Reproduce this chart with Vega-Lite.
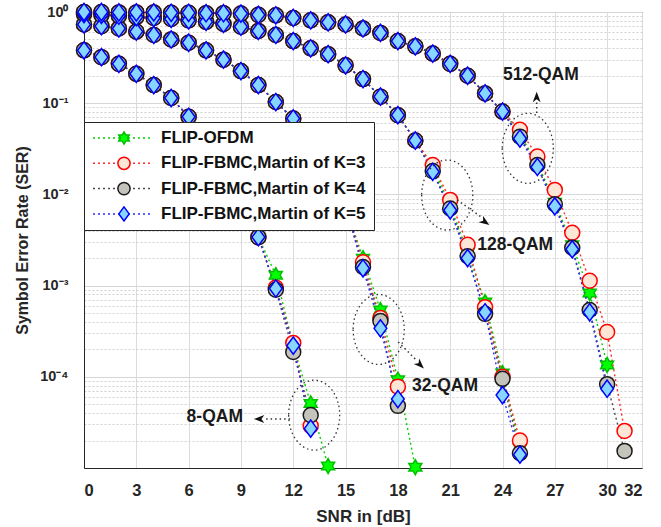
{
"$schema": "https://vega.github.io/schema/vega-lite/v6.json",
"width": 558, "height": 456,
"autosize": {"type": "none"},
"padding": {"left": 84, "top": 12, "right": 19, "bottom": 59},
"background": "white",
"config": {"view": {"stroke": "#262626", "strokeWidth": 1}, "font": "Liberation Sans"},
"data": {"values": [
{"s":"a","m":8,"x":0,"y":0.38},{"s":"a","m":8,"x":1,"y":0.32},{"s":"a","m":8,"x":2,"y":0.27},{"s":"a","m":8,"x":3,"y":0.21},{"s":"a","m":8,"x":4,"y":0.158},{"s":"a","m":8,"x":5,"y":0.114},{"s":"a","m":8,"x":6,"y":0.071},{"s":"a","m":8,"x":7,"y":0.042},{"s":"a","m":8,"x":8,"y":0.021},{"s":"a","m":8,"x":9,"y":0.0095},{"s":"a","m":8,"x":10,"y":0.0034},{"s":"a","m":8,"x":11,"y":0.0013},{"s":"a","m":8,"x":12,"y":0.00022},{"s":"a","m":8,"x":13,"y":0.000051},{"s":"a","m":8,"x":14,"y":0.0000105},
{"s":"a","m":32,"x":0,"y":0.73},{"s":"a","m":32,"x":1,"y":0.70},{"s":"a","m":32,"x":2,"y":0.66},{"s":"a","m":32,"x":3,"y":0.61},{"s":"a","m":32,"x":4,"y":0.56},{"s":"a","m":32,"x":5,"y":0.50},{"s":"a","m":32,"x":6,"y":0.46},{"s":"a","m":32,"x":7,"y":0.38},{"s":"a","m":32,"x":8,"y":0.30},{"s":"a","m":32,"x":9,"y":0.225},{"s":"a","m":32,"x":10,"y":0.158},{"s":"a","m":32,"x":11,"y":0.103},{"s":"a","m":32,"x":12,"y":0.068},{"s":"a","m":32,"x":13,"y":0.04},{"s":"a","m":32,"x":14,"y":0.02},{"s":"a","m":32,"x":15,"y":0.0075},{"s":"a","m":32,"x":16,"y":0.002},{"s":"a","m":32,"x":17,"y":0.00054},{"s":"a","m":32,"x":18,"y":0.000093},{"s":"a","m":32,"x":19,"y":0.0000102},
{"s":"a","m":128,"x":0,"y":0.95},{"s":"a","m":128,"x":1,"y":0.93},{"s":"a","m":128,"x":2,"y":0.91},{"s":"a","m":128,"x":3,"y":0.88},{"s":"a","m":128,"x":4,"y":0.86},{"s":"a","m":128,"x":5,"y":0.84},{"s":"a","m":128,"x":6,"y":0.81},{"s":"a","m":128,"x":7,"y":0.78},{"s":"a","m":128,"x":8,"y":0.74},{"s":"a","m":128,"x":9,"y":0.69},{"s":"a","m":128,"x":10,"y":0.62},{"s":"a","m":128,"x":11,"y":0.56},{"s":"a","m":128,"x":12,"y":0.48},{"s":"a","m":128,"x":13,"y":0.40},{"s":"a","m":128,"x":14,"y":0.345},{"s":"a","m":128,"x":15,"y":0.26},{"s":"a","m":128,"x":16,"y":0.184},{"s":"a","m":128,"x":17,"y":0.118},{"s":"a","m":128,"x":18,"y":0.074},{"s":"a","m":128,"x":19,"y":0.039},{"s":"a","m":128,"x":20,"y":0.02},{"s":"a","m":128,"x":21,"y":0.0076},{"s":"a","m":128,"x":22,"y":0.0023},{"s":"a","m":128,"x":23,"y":0.00066},{"s":"a","m":128,"x":24,"y":0.00011},{"s":"a","m":128,"x":25,"y":0.0000165},
{"s":"a","m":512,"x":0,"y":1.0},{"s":"a","m":512,"x":1,"y":1.0},{"s":"a","m":512,"x":2,"y":0.99},{"s":"a","m":512,"x":3,"y":0.99},{"s":"a","m":512,"x":4,"y":0.99},{"s":"a","m":512,"x":5,"y":0.98},{"s":"a","m":512,"x":6,"y":0.98},{"s":"a","m":512,"x":7,"y":0.97},{"s":"a","m":512,"x":8,"y":0.97},{"s":"a","m":512,"x":9,"y":0.96},{"s":"a","m":512,"x":10,"y":0.93},{"s":"a","m":512,"x":11,"y":0.92},{"s":"a","m":512,"x":12,"y":0.86},{"s":"a","m":512,"x":13,"y":0.81},{"s":"a","m":512,"x":14,"y":0.77},{"s":"a","m":512,"x":15,"y":0.73},{"s":"a","m":512,"x":16,"y":0.66},{"s":"a","m":512,"x":17,"y":0.59},{"s":"a","m":512,"x":18,"y":0.48},{"s":"a","m":512,"x":19,"y":0.42},{"s":"a","m":512,"x":20,"y":0.35},{"s":"a","m":512,"x":21,"y":0.27},{"s":"a","m":512,"x":22,"y":0.20},{"s":"a","m":512,"x":23,"y":0.128},{"s":"a","m":512,"x":24,"y":0.081},{"s":"a","m":512,"x":25,"y":0.045},{"s":"a","m":512,"x":26,"y":0.022},{"s":"a","m":512,"x":27,"y":0.0082},{"s":"a","m":512,"x":28,"y":0.0028},{"s":"a","m":512,"x":29,"y":0.00083},{"s":"a","m":512,"x":30,"y":0.000135},
{"s":"b","m":8,"x":0,"y":0.38},{"s":"b","m":8,"x":1,"y":0.32},{"s":"b","m":8,"x":2,"y":0.27},{"s":"b","m":8,"x":3,"y":0.21},{"s":"b","m":8,"x":4,"y":0.158},{"s":"b","m":8,"x":5,"y":0.114},{"s":"b","m":8,"x":6,"y":0.071},{"s":"b","m":8,"x":7,"y":0.042},{"s":"b","m":8,"x":8,"y":0.021},{"s":"b","m":8,"x":9,"y":0.0095},{"s":"b","m":8,"x":10,"y":0.0034},{"s":"b","m":8,"x":11,"y":0.00095},{"s":"b","m":8,"x":12,"y":0.000235},{"s":"b","m":8,"x":13,"y":0.000029},
{"s":"b","m":32,"x":0,"y":0.73},{"s":"b","m":32,"x":1,"y":0.70},{"s":"b","m":32,"x":2,"y":0.66},{"s":"b","m":32,"x":3,"y":0.61},{"s":"b","m":32,"x":4,"y":0.56},{"s":"b","m":32,"x":5,"y":0.50},{"s":"b","m":32,"x":6,"y":0.46},{"s":"b","m":32,"x":7,"y":0.38},{"s":"b","m":32,"x":8,"y":0.30},{"s":"b","m":32,"x":9,"y":0.225},{"s":"b","m":32,"x":10,"y":0.158},{"s":"b","m":32,"x":11,"y":0.103},{"s":"b","m":32,"x":12,"y":0.068},{"s":"b","m":32,"x":13,"y":0.04},{"s":"b","m":32,"x":14,"y":0.02},{"s":"b","m":32,"x":15,"y":0.0075},{"s":"b","m":32,"x":16,"y":0.0018},{"s":"b","m":32,"x":17,"y":0.00044},{"s":"b","m":32,"x":18,"y":0.000078},
{"s":"b","m":128,"x":0,"y":0.95},{"s":"b","m":128,"x":1,"y":0.93},{"s":"b","m":128,"x":2,"y":0.91},{"s":"b","m":128,"x":3,"y":0.88},{"s":"b","m":128,"x":4,"y":0.86},{"s":"b","m":128,"x":5,"y":0.84},{"s":"b","m":128,"x":6,"y":0.81},{"s":"b","m":128,"x":7,"y":0.78},{"s":"b","m":128,"x":8,"y":0.74},{"s":"b","m":128,"x":9,"y":0.69},{"s":"b","m":128,"x":10,"y":0.62},{"s":"b","m":128,"x":11,"y":0.56},{"s":"b","m":128,"x":12,"y":0.48},{"s":"b","m":128,"x":13,"y":0.40},{"s":"b","m":128,"x":14,"y":0.345},{"s":"b","m":128,"x":15,"y":0.26},{"s":"b","m":128,"x":16,"y":0.184},{"s":"b","m":128,"x":17,"y":0.118},{"s":"b","m":128,"x":18,"y":0.074},{"s":"b","m":128,"x":19,"y":0.039},{"s":"b","m":128,"x":20,"y":0.021},{"s":"b","m":128,"x":21,"y":0.0087},{"s":"b","m":128,"x":22,"y":0.0028},{"s":"b","m":128,"x":23,"y":0.00058},{"s":"b","m":128,"x":24,"y":0.0001},{"s":"b","m":128,"x":25,"y":0.00002},
{"s":"b","m":512,"x":0,"y":1.0},{"s":"b","m":512,"x":1,"y":1.0},{"s":"b","m":512,"x":2,"y":0.99},{"s":"b","m":512,"x":3,"y":0.99},{"s":"b","m":512,"x":4,"y":0.99},{"s":"b","m":512,"x":5,"y":0.98},{"s":"b","m":512,"x":6,"y":0.98},{"s":"b","m":512,"x":7,"y":0.97},{"s":"b","m":512,"x":8,"y":0.97},{"s":"b","m":512,"x":9,"y":0.96},{"s":"b","m":512,"x":10,"y":0.93},{"s":"b","m":512,"x":11,"y":0.92},{"s":"b","m":512,"x":12,"y":0.86},{"s":"b","m":512,"x":13,"y":0.81},{"s":"b","m":512,"x":14,"y":0.77},{"s":"b","m":512,"x":15,"y":0.73},{"s":"b","m":512,"x":16,"y":0.66},{"s":"b","m":512,"x":17,"y":0.59},{"s":"b","m":512,"x":18,"y":0.48},{"s":"b","m":512,"x":19,"y":0.42},{"s":"b","m":512,"x":20,"y":0.35},{"s":"b","m":512,"x":21,"y":0.27},{"s":"b","m":512,"x":22,"y":0.20},{"s":"b","m":512,"x":23,"y":0.128},{"s":"b","m":512,"x":24,"y":0.081},{"s":"b","m":512,"x":25,"y":0.051},{"s":"b","m":512,"x":26,"y":0.026},{"s":"b","m":512,"x":27,"y":0.0112},{"s":"b","m":512,"x":28,"y":0.0038},{"s":"b","m":512,"x":29,"y":0.00113},{"s":"b","m":512,"x":30,"y":0.00031},{"s":"b","m":512,"x":31,"y":0.0000255},
{"s":"c","m":8,"x":0,"y":0.38},{"s":"c","m":8,"x":1,"y":0.32},{"s":"c","m":8,"x":2,"y":0.27},{"s":"c","m":8,"x":3,"y":0.21},{"s":"c","m":8,"x":4,"y":0.158},{"s":"c","m":8,"x":5,"y":0.114},{"s":"c","m":8,"x":6,"y":0.071},{"s":"c","m":8,"x":7,"y":0.042},{"s":"c","m":8,"x":8,"y":0.021},{"s":"c","m":8,"x":9,"y":0.0095},{"s":"c","m":8,"x":10,"y":0.0034},{"s":"c","m":8,"x":11,"y":0.0009},{"s":"c","m":8,"x":12,"y":0.000187},{"s":"c","m":8,"x":13,"y":0.000038},
{"s":"c","m":32,"x":0,"y":0.73},{"s":"c","m":32,"x":1,"y":0.70},{"s":"c","m":32,"x":2,"y":0.66},{"s":"c","m":32,"x":3,"y":0.61},{"s":"c","m":32,"x":4,"y":0.56},{"s":"c","m":32,"x":5,"y":0.50},{"s":"c","m":32,"x":6,"y":0.46},{"s":"c","m":32,"x":7,"y":0.38},{"s":"c","m":32,"x":8,"y":0.30},{"s":"c","m":32,"x":9,"y":0.225},{"s":"c","m":32,"x":10,"y":0.158},{"s":"c","m":32,"x":11,"y":0.103},{"s":"c","m":32,"x":12,"y":0.068},{"s":"c","m":32,"x":13,"y":0.04},{"s":"c","m":32,"x":14,"y":0.02},{"s":"c","m":32,"x":15,"y":0.0075},{"s":"c","m":32,"x":16,"y":0.0016},{"s":"c","m":32,"x":17,"y":0.00041},{"s":"c","m":32,"x":18,"y":0.000048},
{"s":"c","m":128,"x":0,"y":0.95},{"s":"c","m":128,"x":1,"y":0.93},{"s":"c","m":128,"x":2,"y":0.91},{"s":"c","m":128,"x":3,"y":0.88},{"s":"c","m":128,"x":4,"y":0.86},{"s":"c","m":128,"x":5,"y":0.84},{"s":"c","m":128,"x":6,"y":0.81},{"s":"c","m":128,"x":7,"y":0.78},{"s":"c","m":128,"x":8,"y":0.74},{"s":"c","m":128,"x":9,"y":0.69},{"s":"c","m":128,"x":10,"y":0.62},{"s":"c","m":128,"x":11,"y":0.56},{"s":"c","m":128,"x":12,"y":0.48},{"s":"c","m":128,"x":13,"y":0.40},{"s":"c","m":128,"x":14,"y":0.345},{"s":"c","m":128,"x":15,"y":0.26},{"s":"c","m":128,"x":16,"y":0.184},{"s":"c","m":128,"x":17,"y":0.118},{"s":"c","m":128,"x":18,"y":0.074},{"s":"c","m":128,"x":19,"y":0.039},{"s":"c","m":128,"x":20,"y":0.018},{"s":"c","m":128,"x":21,"y":0.007},{"s":"c","m":128,"x":22,"y":0.0021},{"s":"c","m":128,"x":23,"y":0.00049},{"s":"c","m":128,"x":24,"y":0.000095},{"s":"c","m":128,"x":25,"y":0.0000145},
{"s":"c","m":512,"x":0,"y":1.0},{"s":"c","m":512,"x":1,"y":1.0},{"s":"c","m":512,"x":2,"y":0.99},{"s":"c","m":512,"x":3,"y":0.99},{"s":"c","m":512,"x":4,"y":0.99},{"s":"c","m":512,"x":5,"y":0.98},{"s":"c","m":512,"x":6,"y":0.98},{"s":"c","m":512,"x":7,"y":0.97},{"s":"c","m":512,"x":8,"y":0.97},{"s":"c","m":512,"x":9,"y":0.96},{"s":"c","m":512,"x":10,"y":0.93},{"s":"c","m":512,"x":11,"y":0.92},{"s":"c","m":512,"x":12,"y":0.86},{"s":"c","m":512,"x":13,"y":0.81},{"s":"c","m":512,"x":14,"y":0.77},{"s":"c","m":512,"x":15,"y":0.73},{"s":"c","m":512,"x":16,"y":0.66},{"s":"c","m":512,"x":17,"y":0.59},{"s":"c","m":512,"x":18,"y":0.48},{"s":"c","m":512,"x":19,"y":0.42},{"s":"c","m":512,"x":20,"y":0.35},{"s":"c","m":512,"x":21,"y":0.27},{"s":"c","m":512,"x":22,"y":0.20},{"s":"c","m":512,"x":23,"y":0.128},{"s":"c","m":512,"x":24,"y":0.081},{"s":"c","m":512,"x":25,"y":0.043},{"s":"c","m":512,"x":26,"y":0.021},{"s":"c","m":512,"x":27,"y":0.0078},{"s":"c","m":512,"x":28,"y":0.0026},{"s":"c","m":512,"x":29,"y":0.00054},{"s":"c","m":512,"x":30,"y":0.000083},{"s":"c","m":512,"x":31,"y":0.0000154},
{"s":"d","m":8,"x":0,"y":0.38},{"s":"d","m":8,"x":1,"y":0.32},{"s":"d","m":8,"x":2,"y":0.27},{"s":"d","m":8,"x":3,"y":0.21},{"s":"d","m":8,"x":4,"y":0.158},{"s":"d","m":8,"x":5,"y":0.114},{"s":"d","m":8,"x":6,"y":0.071},{"s":"d","m":8,"x":7,"y":0.042},{"s":"d","m":8,"x":8,"y":0.021},{"s":"d","m":8,"x":9,"y":0.0095},{"s":"d","m":8,"x":10,"y":0.0034},{"s":"d","m":8,"x":11,"y":0.00093},{"s":"d","m":8,"x":12,"y":0.00022},{"s":"d","m":8,"x":13,"y":0.000027},
{"s":"d","m":32,"x":0,"y":0.73},{"s":"d","m":32,"x":1,"y":0.70},{"s":"d","m":32,"x":2,"y":0.66},{"s":"d","m":32,"x":3,"y":0.61},{"s":"d","m":32,"x":4,"y":0.56},{"s":"d","m":32,"x":5,"y":0.50},{"s":"d","m":32,"x":6,"y":0.46},{"s":"d","m":32,"x":7,"y":0.38},{"s":"d","m":32,"x":8,"y":0.30},{"s":"d","m":32,"x":9,"y":0.225},{"s":"d","m":32,"x":10,"y":0.158},{"s":"d","m":32,"x":11,"y":0.103},{"s":"d","m":32,"x":12,"y":0.068},{"s":"d","m":32,"x":13,"y":0.04},{"s":"d","m":32,"x":14,"y":0.02},{"s":"d","m":32,"x":15,"y":0.0075},{"s":"d","m":32,"x":16,"y":0.00155},{"s":"d","m":32,"x":17,"y":0.00034},{"s":"d","m":32,"x":18,"y":0.000057},
{"s":"d","m":128,"x":0,"y":0.95},{"s":"d","m":128,"x":1,"y":0.93},{"s":"d","m":128,"x":2,"y":0.91},{"s":"d","m":128,"x":3,"y":0.88},{"s":"d","m":128,"x":4,"y":0.86},{"s":"d","m":128,"x":5,"y":0.84},{"s":"d","m":128,"x":6,"y":0.81},{"s":"d","m":128,"x":7,"y":0.78},{"s":"d","m":128,"x":8,"y":0.74},{"s":"d","m":128,"x":9,"y":0.69},{"s":"d","m":128,"x":10,"y":0.62},{"s":"d","m":128,"x":11,"y":0.56},{"s":"d","m":128,"x":12,"y":0.48},{"s":"d","m":128,"x":13,"y":0.40},{"s":"d","m":128,"x":14,"y":0.345},{"s":"d","m":128,"x":15,"y":0.26},{"s":"d","m":128,"x":16,"y":0.184},{"s":"d","m":128,"x":17,"y":0.118},{"s":"d","m":128,"x":18,"y":0.074},{"s":"d","m":128,"x":19,"y":0.039},{"s":"d","m":128,"x":20,"y":0.0177},{"s":"d","m":128,"x":21,"y":0.0067},{"s":"d","m":128,"x":22,"y":0.002},{"s":"d","m":128,"x":23,"y":0.00051},{"s":"d","m":128,"x":24,"y":0.000063},{"s":"d","m":128,"x":25,"y":0.000014},
{"s":"d","m":512,"x":0,"y":1.0},{"s":"d","m":512,"x":1,"y":1.0},{"s":"d","m":512,"x":2,"y":0.99},{"s":"d","m":512,"x":3,"y":0.99},{"s":"d","m":512,"x":4,"y":0.99},{"s":"d","m":512,"x":5,"y":0.98},{"s":"d","m":512,"x":6,"y":0.98},{"s":"d","m":512,"x":7,"y":0.97},{"s":"d","m":512,"x":8,"y":0.97},{"s":"d","m":512,"x":9,"y":0.96},{"s":"d","m":512,"x":10,"y":0.93},{"s":"d","m":512,"x":11,"y":0.92},{"s":"d","m":512,"x":12,"y":0.86},{"s":"d","m":512,"x":13,"y":0.81},{"s":"d","m":512,"x":14,"y":0.77},{"s":"d","m":512,"x":15,"y":0.73},{"s":"d","m":512,"x":16,"y":0.66},{"s":"d","m":512,"x":17,"y":0.59},{"s":"d","m":512,"x":18,"y":0.48},{"s":"d","m":512,"x":19,"y":0.42},{"s":"d","m":512,"x":20,"y":0.35},{"s":"d","m":512,"x":21,"y":0.27},{"s":"d","m":512,"x":22,"y":0.20},{"s":"d","m":512,"x":23,"y":0.128},{"s":"d","m":512,"x":24,"y":0.081},{"s":"d","m":512,"x":25,"y":0.041},{"s":"d","m":512,"x":26,"y":0.02},{"s":"d","m":512,"x":27,"y":0.0074},{"s":"d","m":512,"x":28,"y":0.0025},{"s":"d","m":512,"x":29,"y":0.00051},{"s":"d","m":512,"x":30,"y":0.000074}
]},
"layer": [
{
"transform": [{"filter": "datum.y > 0"}],
"mark": {"type": "line", "strokeDash": [2, 3], "strokeWidth": 1.4, "clip": true},
"encoding": {
"x": {"field": "x", "type": "quantitative", "scale": {"domain": [0, 32], "nice": false, "zero": false},
"axis": {"title": "SNR in [dB]", "values": [0,3,6,9,12,15,18,21,24,27,30,32], "grid": true, "gridColor": "#dcdcdc", "ticks": false, "domainColor": "#262626", "labelFont": "Liberation Sans", "labelFontSize": 16.5, "labelFontWeight": "bold", "labelColor": "#262626", "labelPadding": 14, "labelOverlap": false, "titleFont": "Liberation Sans", "titleFontSize": 17, "titleFontWeight": "bold", "titleColor": "#262626", "titleY": 48, "titleBaseline": "middle"}},
"y": {"field": "y", "type": "quantitative", "scale": {"type": "log", "domain": [0.00001, 1], "nice": false},
"axis": {"title": "Symbol Error Rate (SER)",
"values": [0.00001,0.00002,0.00003,0.00004,0.00005,0.00006,0.00007,0.00008,0.00009,0.0001,0.0002,0.0003,0.0004,0.0005,0.0006,0.0007,0.0008,0.0009,0.001,0.002,0.003,0.004,0.005,0.006,0.007,0.008,0.009,0.01,0.02,0.03,0.04,0.05,0.06,0.07,0.08,0.09,0.1,0.2,0.3,0.4,0.5,0.6,0.7,0.8,0.9,1],
"labelExpr": "abs(log(datum.value)/LN10 - round(log(datum.value)/LN10)) < 0.01 ? (round(log(datum.value)/LN10) == 0 ? '10⁰' : round(log(datum.value)/LN10) == -1 ? '10⁻¹' : round(log(datum.value)/LN10) == -2 ? '10⁻²' : round(log(datum.value)/LN10) == -3 ? '10⁻³' : round(log(datum.value)/LN10) == -4 ? '10⁻⁴' : '') : ''",
"grid": true,
"gridColor": {"condition": {"test": "abs(log(datum.value)/LN10 - round(log(datum.value)/LN10)) < 0.01", "value": "#d6d6d6"}, "value": "#d0d0d0"},
"gridDash": {"condition": {"test": "abs(log(datum.value)/LN10 - round(log(datum.value)/LN10)) < 0.01", "value": []}, "value": [2, 2]},
"ticks": false, "domainColor": "#262626", "labelFont": "Liberation Sans", "labelFontSize": 14.5, "labelFontWeight": "bold", "labelColor": "#262626", "labelPadding": 16, "labelOverlap": false,
"titleFont": "Liberation Sans", "titleFontSize": 16, "titleFontWeight": "bold", "titleColor": "#262626", "titleX": -62, "titleY": 228, "titleAngle": -90, "titleBaseline": "middle", "titleAlign": "center"}},
"detail": {"field": "m", "type": "nominal"},
"color": {"field": "s", "type": "nominal",
"scale": {"range": ["#00d000", "#ff2a2a", "#4a4a4a", "#2a2aff"]},
"legend": {"title": null, "orient": "none", "legendX": 0, "legendY": 110, "padding": 8, "fillColor": "white", "strokeColor": "#262626", "symbolType": "stroke", "symbolSize": 3600, "symbolDash": [2, 3], "symbolStrokeWidth": 1.5, "clipHeight": 16, "labelFont": "Liberation Sans", "labelFontSize": 17, "labelFontWeight": "bold", "labelColor": "#111111", "labelOffset": 7, "rowPadding": 8.3, "labelLimit": 400,
"labelExpr": "datum.label == 'a' ? 'FLIP-OFDM' : datum.label == 'b' ? 'FLIP-FBMC,Martin of K=3' : datum.label == 'c' ? 'FLIP-FBMC,Martin of K=4' : 'FLIP-FBMC,Martin of K=5'"}}
}
},
{
"mark": {"type": "point", "filled": true, "strokeWidth": 1.5, "size": 225, "opacity": 1},
"encoding": {
"x": {"field": "x", "type": "quantitative"},
"y": {"field": "y", "type": "quantitative"},
"shape": {"field": "s", "type": "nominal",
"scale": {"range": ["M0,-1L0.2887,-0.5L0.866,-0.5L0.577,0L0.866,0.5L0.2887,0.5L0,1L-0.2887,0.5L-0.866,0.5L-0.577,0L-0.866,-0.5L-0.2887,-0.5Z", "circle", "circle", "M0,-1.15L0.85,0L0,1.15L-0.85,0Z"]},
"legend": {"title": null, "orient": "none", "legendX": 23.5, "legendY": 110, "padding": 8, "symbolSize": 150, "symbolStrokeWidth": 1.5, "clipHeight": 16, "labelFontSize": 17, "labelOffset": 7, "rowPadding": 8.3, "labelExpr": "''"}},
"fill": {"field": "s", "type": "nominal", "scale": {"range": ["#00ff00", "#fde6d6", "#c4c4bc", "#86d6ff"]},
"legend": {"title": null, "orient": "none", "legendX": 23.5, "legendY": 110, "padding": 8, "symbolSize": 150, "symbolStrokeWidth": 1.5, "clipHeight": 16, "labelFontSize": 17, "labelOffset": 7, "rowPadding": 8.3, "labelExpr": "''"}},
"stroke": {"field": "s", "type": "nominal", "scale": {"range": ["#00c000", "#ff0000", "#1a1a1a", "#0000ff"]},
"legend": {"title": null, "orient": "none", "legendX": 23.5, "legendY": 110, "padding": 8, "symbolSize": 150, "symbolStrokeWidth": 1.5, "clipHeight": 16, "labelFontSize": 17, "labelOffset": 7, "rowPadding": 8.3, "labelExpr": "''"}}
}
},
{
"data": {"values": [{"x": 25.45, "y": 0.032}, {"x": 20.83, "y": 0.00984}, {"x": 16.9, "y": 0.00033}, {"x": 13.2, "y": 0.000038}]},
"mark": {"type": "point", "filled": false, "shape": "M-0.73,0A0.73,1 0 1,0 0.73,0A0.73,1 0 1,0 -0.73,0Z", "size": 4900, "stroke": "#333333", "strokeWidth": 1.3, "strokeDash": [1.5, 3], "opacity": 1},
"encoding": {"x": {"field": "x", "type": "quantitative"}, "y": {"field": "y", "type": "quantitative"}}
},
{
"data": {"values": [{"x": 25.96, "y": 0.078, "x2": 25.96, "y2": 0.104}, {"x": 21.4, "y": 0.0087, "x2": 22.78, "y2": 0.00565}, {"x": 18.02, "y": 0.000241, "x2": 19.05, "y2": 0.000153}, {"x": 11.82, "y": 0.0000345, "x2": 10.44, "y2": 0.0000345}]},
"mark": {"type": "rule", "stroke": "#333333", "strokeWidth": 1.5, "strokeDash": [1.5, 3]},
"encoding": {"x": {"field": "x", "type": "quantitative"}, "y": {"field": "y", "type": "quantitative"}, "x2": {"field": "x2"}, "y2": {"field": "y2"}}
},
{
"data": {"values": [{"x": 25.96, "y": 0.117, "a": 0}, {"x": 23.0, "y": 0.00498, "a": 125}, {"x": 19.28, "y": 0.000135, "a": 135}, {"x": 10.04, "y": 0.0000345, "a": 270}]},
"mark": {"type": "point", "filled": true, "shape": "M0,-1L0.75,1L0,0.45L-0.75,1Z", "size": 110, "fill": "#111111", "stroke": null, "opacity": 1},
"encoding": {"x": {"field": "x", "type": "quantitative"}, "y": {"field": "y", "type": "quantitative"}, "angle": {"field": "a", "type": "quantitative", "scale": null}}
},
{
"data": {"values": [{"x": 26.2, "y": 0.204, "t": "512-QAM"}, {"x": 24.73, "y": 0.00279, "t": "128-QAM"}, {"x": 20.7, "y": 0.000079, "t": "32-QAM"}, {"x": 7.5, "y": 0.000036, "t": "8-QAM"}]},
"mark": {"type": "text", "font": "Liberation Sans", "fontSize": 17.5, "fontWeight": "bold", "fill": "#1a1a1a", "align": "center", "baseline": "middle"},
"encoding": {"x": {"field": "x", "type": "quantitative"}, "y": {"field": "y", "type": "quantitative"}, "text": {"field": "t"}}
}
]
}
